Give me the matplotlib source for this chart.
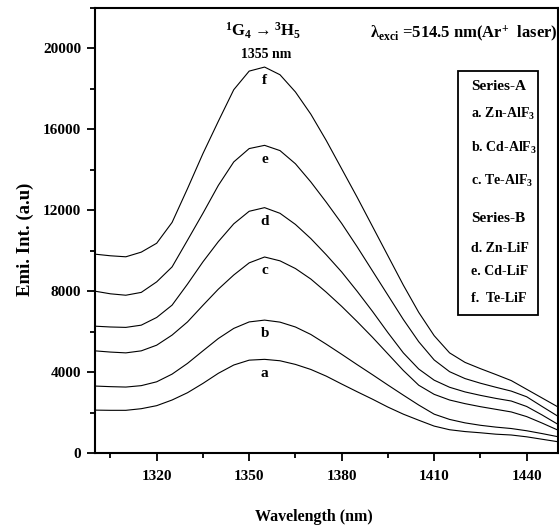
import matplotlib
matplotlib.use('Agg')
import matplotlib.pyplot as plt
from matplotlib.patches import Rectangle
from matplotlib.ticker import MultipleLocator

plt.rcParams['font.family'] = ['Liberation Serif', 'DejaVu Serif']
plt.rcParams['font.weight'] = 'bold'
plt.rcParams['mathtext.default'] = 'regular'

# ---------------- data ----------------
wavelength = [1300, 1305, 1310, 1315, 1320, 1325, 1330, 1335, 1340, 1345,
              1350, 1355, 1360, 1365, 1370, 1375, 1380, 1385, 1390, 1395,
              1400, 1405, 1410, 1415, 1420, 1425, 1430, 1435, 1440, 1445, 1450]

a_zn_alf3 = [2120, 2110, 2110, 2190, 2340, 2620, 2980, 3440, 3940, 4350,
             4590, 4630, 4560, 4380, 4130, 3800, 3410, 3030, 2660, 2270,
             1920, 1620, 1330, 1150, 1060, 1000, 930, 890, 800, 680, 560]
b_cd_alf3 = [3310, 3280, 3260, 3330, 3520, 3900, 4430, 5050, 5660, 6160,
             6480, 6570, 6470, 6230, 5860, 5380, 4880, 4370, 3870, 3360,
             2860, 2370, 1920, 1660, 1490, 1370, 1280, 1210, 1100, 960, 810]
c_te_alf3 = [5050, 4990, 4950, 5050, 5330, 5830, 6480, 7300, 8100, 8800,
             9400, 9690, 9500, 9120, 8600, 7950, 7250, 6500, 5720, 4900,
             4080, 3350, 2900, 2620, 2440, 2290, 2160, 2030, 1800, 1480, 1140]
d_zn_lif = [6270, 6230, 6210, 6320, 6700, 7310, 8350, 9450, 10450, 11330,
            11950, 12130, 11850, 11300, 10600, 9800, 8950, 8000, 7000, 5950,
            4950, 4150, 3600, 3250, 3020, 2850, 2700, 2570, 2300, 1880, 1430]
e_cd_lif = [8000, 7870, 7800, 7940, 8460, 9200, 10520, 11850, 13230, 14390,
            15050, 15210, 14950, 14300, 13400, 12400, 11350, 10200, 9000, 7800,
            6600, 5500, 4600, 4020, 3680, 3450, 3250, 3060, 2780, 2300, 1830]
f_te_lif = [9830, 9750, 9700, 9930, 10370, 11400, 13070, 14800, 16400, 17960,
            18880, 19080, 18700, 17850, 16750, 15450, 14050, 12650, 11200, 9750,
            8300, 6950, 5800, 4950, 4480, 4170, 3880, 3580, 3150, 2720, 2290]

curve_letters = ['a', 'b', 'c', 'd', 'e', 'f']
curves = [a_zn_alf3, b_cd_alf3, c_te_alf3, d_zn_lif, e_cd_lif, f_te_lif]

legend_headers = ['Series-A', 'Series-B']
legend_lines = ['Series-A', 'a. Zn-AlF$_3$', 'b. Cd-AlF$_3$', 'c. Te-AlF$_3$',
                'Series-B', 'd. Zn-LiF', 'e. Cd-LiF', 'f.  Te-LiF']

peak_wavelength = 1355

# ---------------- figure ----------------
W, H = 559, 531
fig = plt.figure(figsize=(W / 100, H / 100), dpi=100)
ax = fig.add_axes([95 / W, 1 - 453 / H, 462.5 / W, 445 / H])

for vals in curves:
    ax.plot(wavelength, vals, color='black', lw=0.8)

ipk = wavelength.index(peak_wavelength)
for letter, vals in zip(curve_letters, curves):
    ax.annotate(letter, xy=(peak_wavelength, vals[ipk]), xytext=(0, -12.5),
                textcoords='offset points', ha='center', va='baseline',
                fontsize=11, fontweight='bold')

ax.set_xlim(1300, 1450)
ax.set_ylim(0, 22000)
ax.xaxis.set_major_locator(MultipleLocator(30))
ax.xaxis.set_minor_locator(MultipleLocator(15))
ax.yaxis.set_major_locator(MultipleLocator(4000))
ax.yaxis.set_minor_locator(MultipleLocator(2000))
ax.tick_params(which='both', direction='out', top=False, right=False, width=1.3)
ax.tick_params(which='major', length=6, labelsize=11)
ax.tick_params(axis='x', which='major', pad=6)
ax.tick_params(axis='y', which='major', pad=4)
ax.tick_params(which='minor', length=3.6)
for lab in ax.get_xticklabels() + ax.get_yticklabels():
    lab.set_fontweight('bold')
for sp in ax.spines.values():
    sp.set_linewidth(1.5)

ax.set_xlabel('Wavelength (nm)', fontsize=11.5, fontweight='bold')
ax.set_ylabel('Emi. Int. (a.u)', fontsize=13.5, fontweight='bold')
ax.xaxis.set_label_coords(0.4735, -0.144)
ax.xaxis.label.set_va('center')
ax.yaxis.set_label_coords(-0.151, 0.481)
ax.yaxis.label.set_va('center')

# transition annotation
ax.text(peak_wavelength - 0.5, 0.937, r'$^{1}$G$_{4}$$\rightarrow$$^{3}$H$_{5}$',
        transform=ax.get_xaxis_transform(), ha='center', va='baseline',
        fontsize=12, fontweight='bold')
ax.text(peak_wavelength + 0.5, 0.8876, '1355 nm', transform=ax.get_xaxis_transform(),
        ha='center', va='baseline', fontsize=10, fontweight='bold')

# excitation annotation
ax.text(0.5946, 0.935, r'λ$_{exci}$ =514.5 nm(Ar$^{+}$  laser)',
        transform=ax.transAxes, ha='left', va='baseline', fontsize=12,
        fontweight='bold')

# legend box
x0, x1 = (458 - 95) / 462.5, (538 - 95) / 462.5
y0, y1 = (453 - 315) / 445, (453 - 71) / 445
ax.add_patch(Rectangle((x0, y0), x1 - x0, y1 - y0, transform=ax.transAxes,
                       fill=False, lw=1.3, edgecolor='black'))
baselines_px = [90, 118, 152, 185, 222, 252, 275, 302]
for txt, ypx in zip(legend_lines, baselines_px):
    fs = 11 if txt in legend_headers else 10
    ax.text((471 - 95) / 462.5, (453 - ypx) / 445, txt, transform=ax.transAxes,
            ha='left', va='baseline', fontsize=fs, fontweight='bold')

fig.savefig('out.png', dpi=100)
